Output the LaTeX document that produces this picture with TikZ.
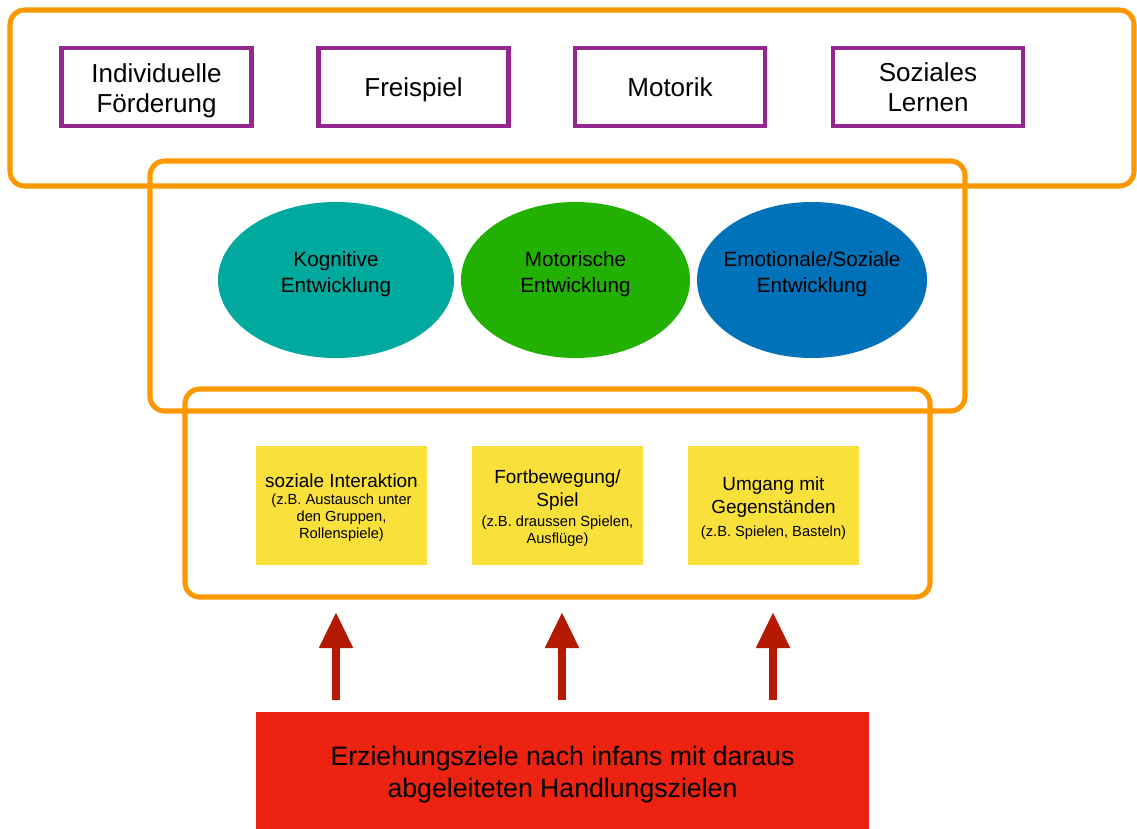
\documentclass[tikz,border=0pt]{standalone}
\usepackage{fontspec}
\setmainfont{Liberation Sans}
\usetikzlibrary{shapes.geometric,arrows.meta}
\definecolor{frameorange}{HTML}{FE9800}
\definecolor{boxpurple}{HTML}{93278F}
\definecolor{ktea}{HTML}{00A99D}
\definecolor{mgreen}{HTML}{22B102}
\definecolor{eblue}{HTML}{0072B9}
\definecolor{syellow}{HTML}{F9E03B}
\definecolor{arrowred}{HTML}{B31A00}
\definecolor{basered}{HTML}{EC2310}
\newcommand{\smallblock}[1]{{\fontsize{11}{13}\selectfont\begin{tabular}[t]{@{}c@{}}#1\end{tabular}}}
\tikzset{
  frame/.style={draw=frameorange, line width=3.8pt, rounded corners=11pt},
  topbox/.style={draw=boxpurple, line width=3.6pt, minimum width=190*0.75pt, minimum height=78*0.75pt, inner sep=0pt},
  toptext/.style={inner sep=0pt, align=center, font=\fontsize{19.5}{22.5}\selectfont},
  devell/.style={ellipse, minimum width=236*0.75pt, minimum height=156*0.75pt, inner sep=0pt},
  elltext/.style={inner sep=0pt, align=center, font=\fontsize{15.5}{19.5}\selectfont},
  yellowbox/.style={fill=syellow, minimum width=171*0.75pt, minimum height=119*0.75pt, inner sep=0pt},
  yellowtext/.style={inner sep=0pt, align=center, font=\fontsize{14.2}{17.2}\selectfont},
  uparrow/.style={draw=arrowred, line width=6pt, -{Triangle[width=24pt,length=27pt]}},
}
\begin{document}
\begin{tikzpicture}[x=0.75pt,y=-0.75pt]
\useasboundingbox (0,0) rectangle (1137,828);
% frames
\draw[frame] (10,10) rectangle (1134,186);
\draw[frame] (150,161) rectangle (965,411);
\draw[frame] (185,389) rectangle (930,597);
% top boxes
\node[topbox] (indiv) at (156.5,87) {};
\node[topbox] (frei) at (413.5,87) {};
\node[topbox] (moto) at (670,87) {};
\node[topbox] (sozl) at (928,87) {};
\node[toptext] (indivT) at ([yshift=-3pt]indiv.center) {Individuelle\\Förderung};
\node[toptext] (freiT) at ([yshift=-2.2pt]frei.center) {Freispiel};
\node[toptext] (motoT) at (moto.center) {Motorik};
\node[toptext] (sozlT) at (sozl.center) {Soziales\\Lernen};
% ellipses
\node[devell, fill=ktea] (kog) at (336,280) {};
\node[devell, fill=mgreen, minimum width=229*0.75pt] (mot) at (575.5,280) {};
\node[devell, fill=eblue, minimum width=230*0.75pt] (emo) at (812,280) {};
\node[elltext] (kogT) at ([yshift=4.5pt]kog.center) {Kognitive\\Entwicklung};
\node[elltext] (motT) at ([yshift=4.5pt]mot.center) {Motorische\\Entwicklung};
\node[elltext] (emoT) at ([yshift=4.5pt]emo.center) {Emotionale/Soziale\\Entwicklung};
% yellow boxes
\node[yellowbox] (y1) at (341.5,505.5) {};
\node[yellowbox] (y2) at (557.5,505.5) {};
\node[yellowbox] (y3) at (773.5,505.5) {};
\node[yellowtext] (y1T) at ([yshift=-2.5pt]y1.center) {soziale Interaktion\\[-4.5pt]\smallblock{(z.B. Austausch unter\\den Gruppen,\\Rollenspiele)}};
\node[yellowtext] (y2T) at ([yshift=-3pt]y2.center) {Fortbewegung/\\Spiel\\[-2.2pt]\smallblock{(z.B. draussen Spielen,\\Ausflüge)}};
\node[yellowtext] (y3T) at ([yshift=-3pt]y3.center) {Umgang mit\\Gegenständen\\\smallblock{(z.B. Spielen, Basteln)}};
% base box
\node[fill=basered, minimum width=613*0.75pt, minimum height=118*0.75pt, inner sep=0pt] (base) at (562.5,771) {};
\node[inner sep=0pt, align=center, font=\fontsize{20}{24}\selectfont] (baseT) at ([yshift=-3pt]base.center) {Erziehungsziele nach infans mit daraus\\abgeleiteten Handlungszielen};
% arrows
\coordinate (a1s) at (336,700); \coordinate (a1e) at (336,612);
\coordinate (a2s) at (562,700); \coordinate (a2e) at (562,612);
\coordinate (a3s) at (773,700); \coordinate (a3e) at (773,612);
\draw[uparrow] (a1s) -- (a1e);
\draw[uparrow] (a2s) -- (a2e);
\draw[uparrow] (a3s) -- (a3e);
\end{tikzpicture}
\end{document}
